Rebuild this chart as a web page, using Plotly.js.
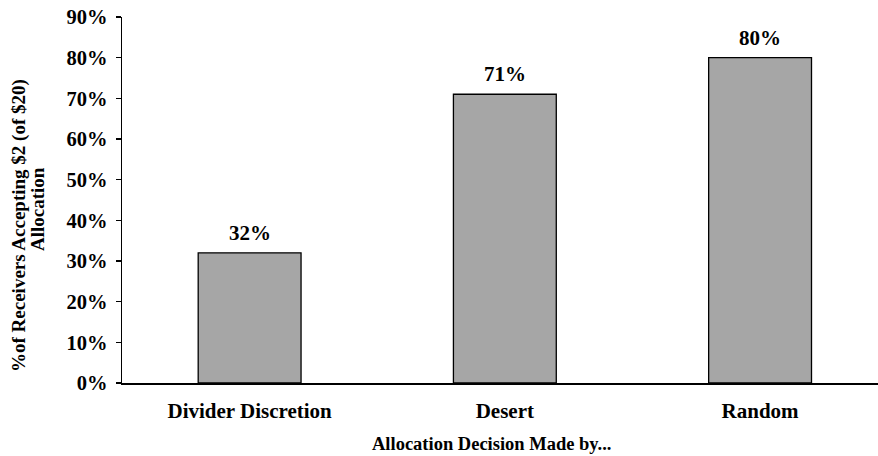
<!DOCTYPE html>
<html>
<head>
<meta charset="utf-8">
<script src="https://cdn.plot.ly/plotly-3.0.1.min.js"></script>
<style>html,body{margin:0;padding:0;background:#fff;}#chart{width:878px;height:456px;}</style>
</head>
<body>
<div id="chart"></div>
<script>
const categories = ["Divider Discretion", "Desert", "Random"];
const values = [0.32, 0.71, 0.80];
const valueLabels = ["32%", "71%", "80%"];
const yTickVals = [0, 0.1, 0.2, 0.3, 0.4, 0.5, 0.6, 0.7, 0.8, 0.9];
const yTickText = ["0%", "10%", "20%", "30%", "40%", "50%", "60%", "70%", "80%", "90%"];
const xTitle = "Allocation Decision Made by...";
const yTitleLines = ["%of Receivers Accepting $2 (of $20)", "Allocation"];

const FONT = "Liberation Serif, Times New Roman, serif";

const L = 122, R = 0, T = 17, B = 73, W = 878, H = 456;
const pw = W - L - R, ph = H - T - B;
const px2x = p => (p - L) / pw;
const py2y = p => (H - B - p) / ph;

const trace = {
  type: "bar",
  x: categories,
  y: values,
  width: 0.403,
  marker: {color: "#a6a6a6", line: {color: "#000", width: 1.3}},
  hoverinfo: "none"
};

const annotations = categories.map((c, i) => ({
  x: c, y: values[i], xref: "x", yref: "y",
  text: valueLabels[i], showarrow: false,
  yanchor: "bottom", yshift: 6,
  font: {family: FONT, size: 21, color: "#000", weight: "bold"}
}));
annotations.push({
  x: px2x(491), xref: "paper", y: py2y(444), yref: "paper",
  xanchor: "center", yanchor: "middle",
  text: xTitle, showarrow: false,
  font: {family: FONT, size: 18.5, color: "#000", weight: "bold"}
});
const yTitleX = [19, 37];
const yTitleY = [226, 209];
yTitleLines.forEach((t, i) => annotations.push({
  x: px2x(yTitleX[i]), xref: "paper", y: py2y(yTitleY[i]), yref: "paper",
  xanchor: "center", yanchor: "middle", textangle: -90,
  text: t, showarrow: false,
  font: {family: FONT, size: 19, color: "#000", weight: "bold"}
}));

const layout = {
  width: W, height: H,
  margin: {l: L, r: R, t: T, b: B, pad: 0},
  paper_bgcolor: "#fff", plot_bgcolor: "#fff",
  showlegend: false,
  font: {family: FONT, color: "#000"},
  xaxis: {
    type: "category",
    range: [-0.5, 2.462],
    showline: true, linecolor: "#000", linewidth: 1.5,
    ticks: "", showgrid: false, zeroline: false,
    tickfont: {family: FONT, size: 21, color: "#000", weight: "bold"},
    ticklabelstandoff: 8
  },
  yaxis: {
    range: [0, 0.9],
    tickvals: yTickVals, ticktext: yTickText,
    showline: true, linecolor: "#000", linewidth: 1.5,
    ticks: "outside", ticklen: 5, tickwidth: 1.5, tickcolor: "#000",
    showgrid: false, zeroline: false,
    tickfont: {family: FONT, size: 20.5, color: "#000", weight: "bold"},
    ticklabelstandoff: 4
  },
  annotations: annotations
};

Plotly.newPlot("chart", [trace], layout, {displayModeBar: false, staticPlot: true});
</script>
</body>
</html>
